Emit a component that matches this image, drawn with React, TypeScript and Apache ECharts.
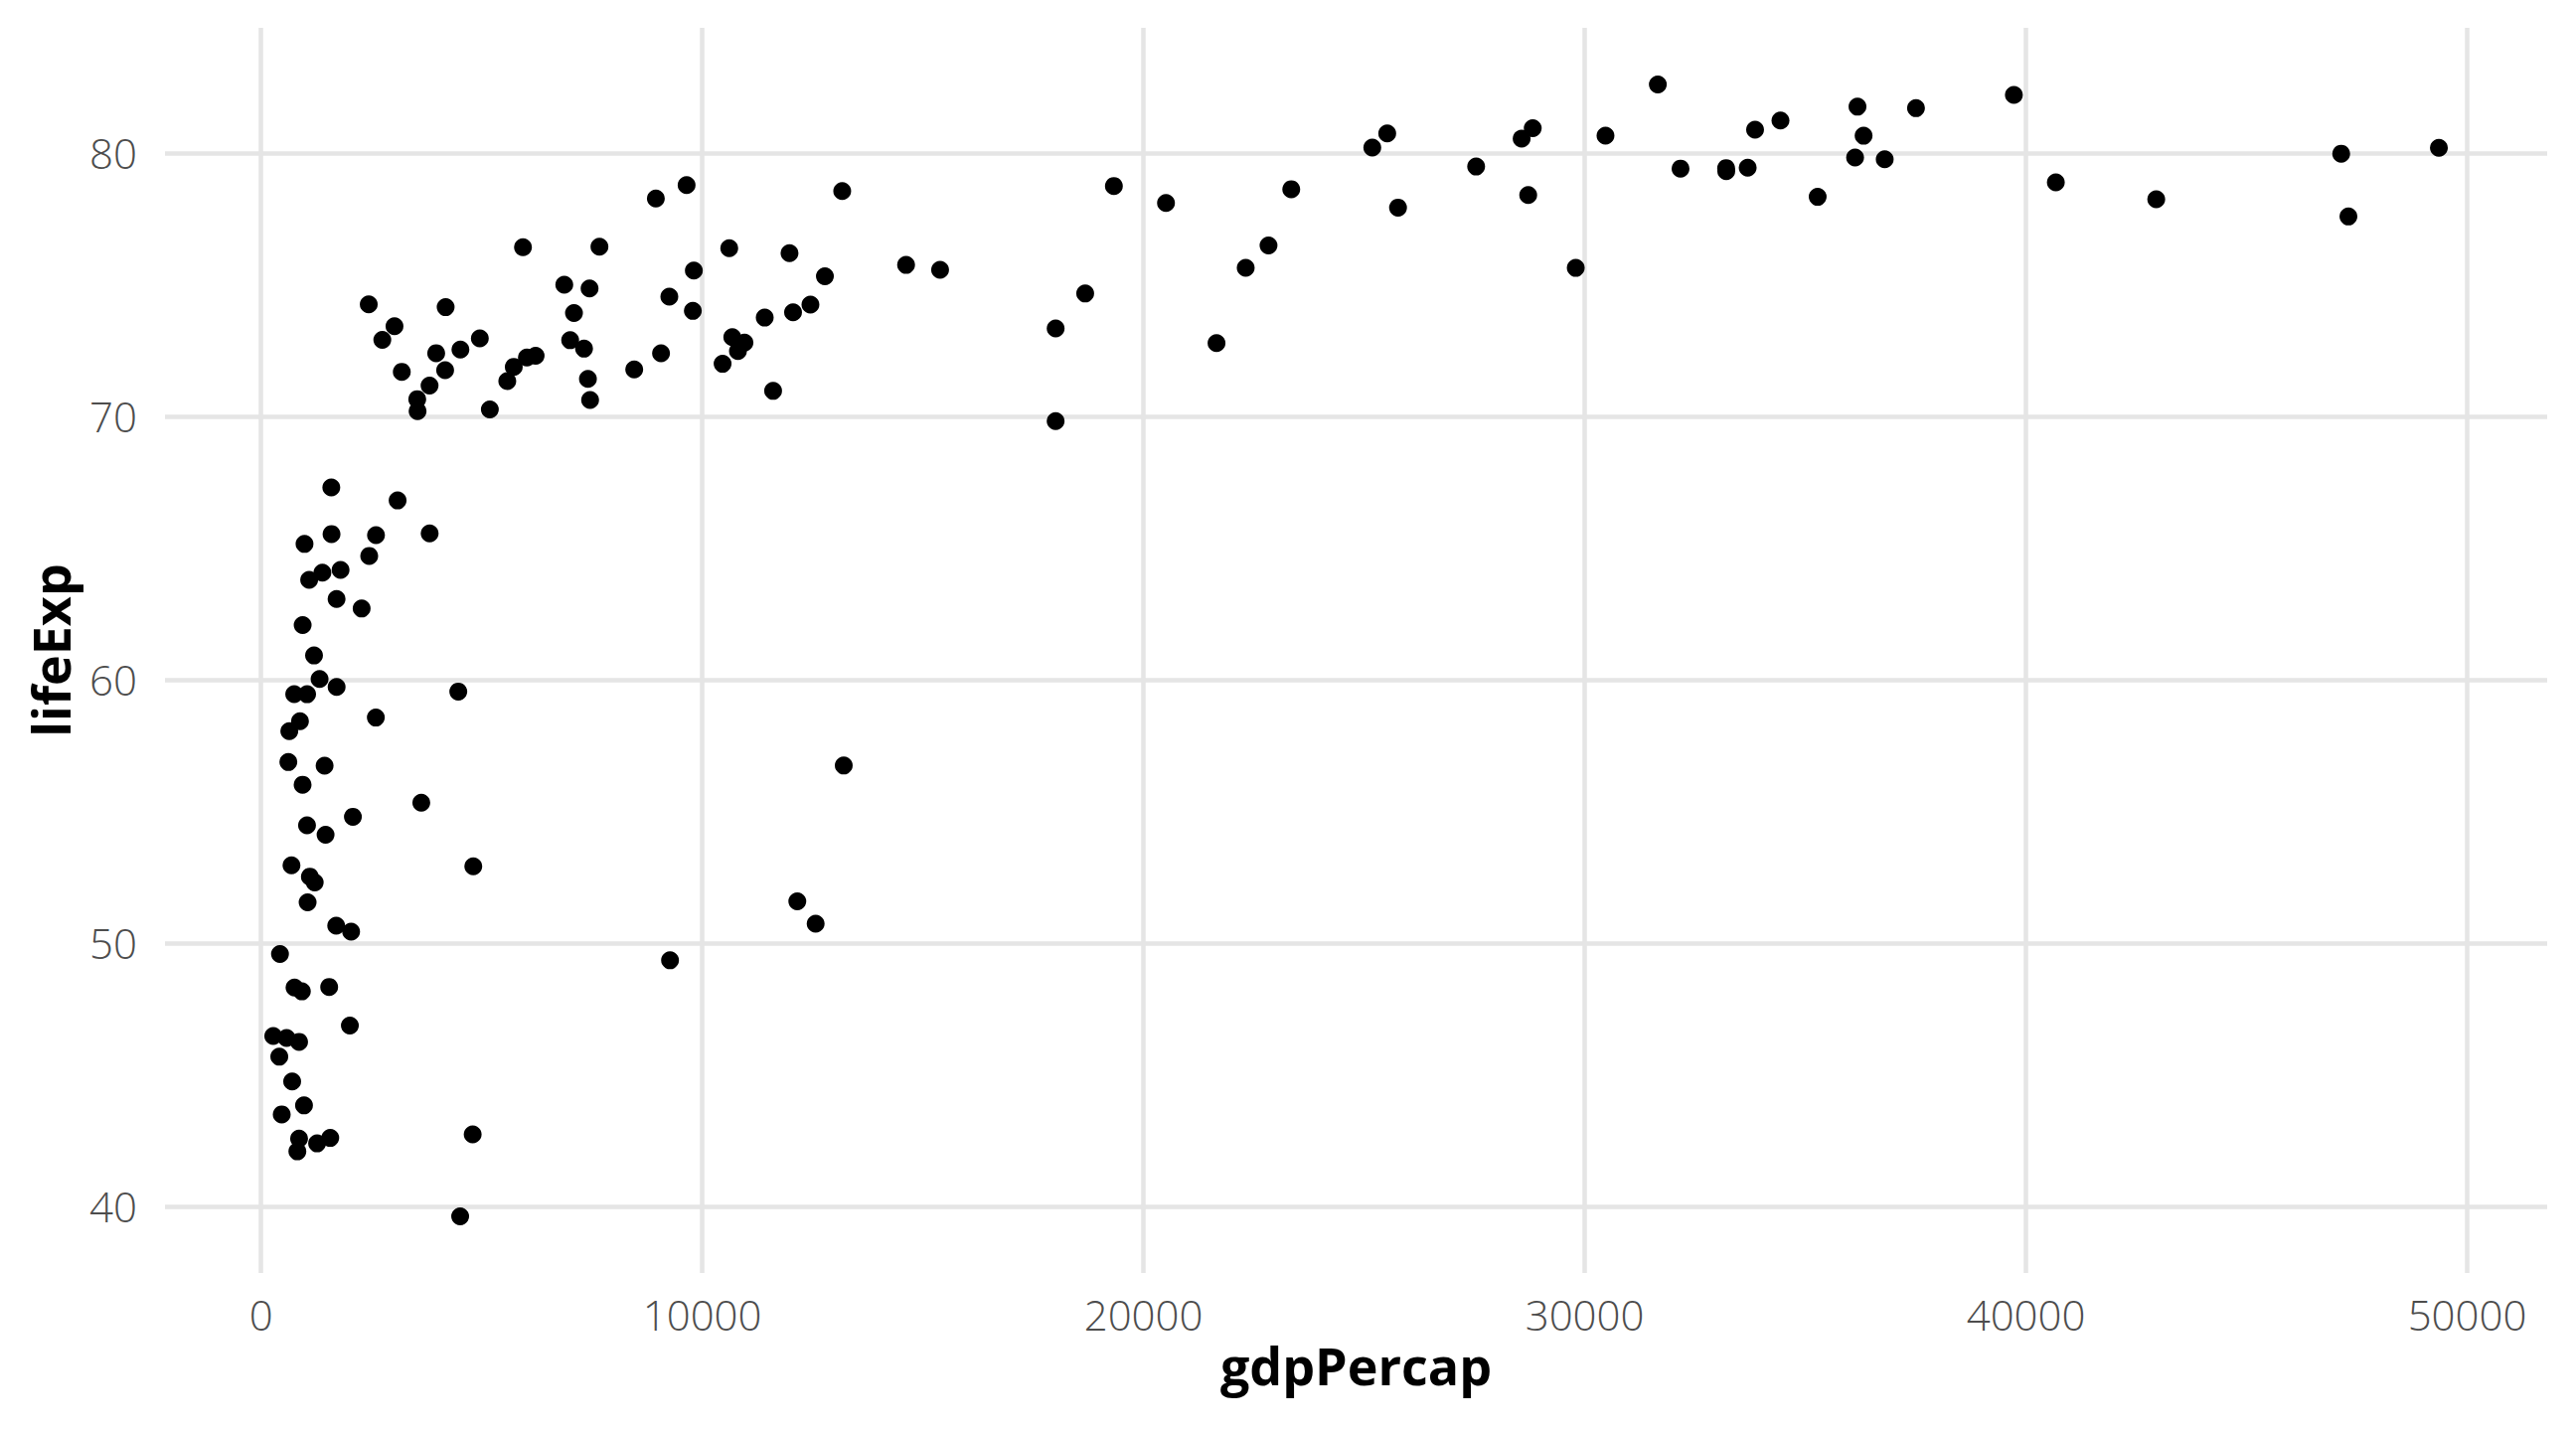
import React, { useEffect, useRef } from "react";
import * as echarts from "echarts";

// Gapminder 2007: one point per country
const countries = [
  "Afghanistan", "Albania", "Algeria", "Angola", "Argentina", "Australia", "Austria", "Bahrain",
  "Bangladesh", "Belgium", "Benin", "Bolivia", "Bosnia and Herzegovina", "Botswana", "Brazil",
  "Bulgaria", "Burkina Faso", "Burundi", "Cambodia", "Cameroon", "Canada", "Central African Republic",
  "Chad", "Chile", "China", "Colombia", "Comoros", "Congo, Dem. Rep.", "Congo, Rep.", "Costa Rica",
  "Cote d'Ivoire", "Croatia", "Cuba", "Czech Republic", "Denmark", "Djibouti", "Dominican Republic",
  "Ecuador", "Egypt", "El Salvador", "Equatorial Guinea", "Eritrea", "Ethiopia", "Finland", "France",
  "Gabon", "Gambia", "Germany", "Ghana", "Greece", "Guatemala", "Guinea", "Guinea-Bissau", "Haiti",
  "Honduras", "Hong Kong, China", "Hungary", "Iceland", "India", "Indonesia", "Iran", "Iraq", "Ireland",
  "Israel", "Italy", "Jamaica", "Japan", "Jordan", "Kenya", "Korea, Dem. Rep.", "Korea, Rep.", "Kuwait",
  "Lebanon", "Lesotho", "Liberia", "Libya", "Madagascar", "Malawi", "Malaysia", "Mali", "Mauritania",
  "Mauritius", "Mexico", "Mongolia", "Montenegro", "Morocco", "Mozambique", "Myanmar", "Namibia", "Nepal",
  "Netherlands", "New Zealand", "Nicaragua", "Niger", "Nigeria", "Norway", "Oman", "Pakistan", "Panama",
  "Paraguay", "Peru", "Philippines", "Poland", "Portugal", "Puerto Rico", "Reunion", "Romania", "Rwanda",
  "Sao Tome and Principe", "Saudi Arabia", "Senegal", "Serbia", "Sierra Leone", "Singapore",
  "Slovak Republic", "Slovenia", "Somalia", "South Africa", "Spain", "Sri Lanka", "Sudan", "Swaziland",
  "Sweden", "Switzerland", "Syria", "Taiwan", "Tanzania", "Thailand", "Togo", "Trinidad and Tobago",
  "Tunisia", "Turkey", "Uganda", "United Kingdom", "United States", "Uruguay", "Venezuela", "Vietnam",
  "West Bank and Gaza", "Yemen, Rep.", "Zambia", "Zimbabwe",
];

const gdpPercap = [
  974.58, 5937.03, 6223.37, 4797.23, 12779.38, 34435.37, 36126.49, 29796.05,
  1391.25, 33692.61, 1441.28, 3822.14, 7446.30, 12569.85, 9065.80,
  10680.79, 1217.03, 430.07, 1713.78, 2042.10, 36319.24, 706.02,
  1704.06, 13171.64, 4959.11, 7006.58, 986.15, 277.55, 3632.56, 9645.06,
  1544.75, 14619.22, 8948.10, 22833.31, 35278.42, 2082.48, 6025.37,
  6873.26, 5581.18, 5728.35, 12154.09, 641.37, 690.81, 33207.08, 30470.02,
  13206.48, 752.75, 32170.37, 1327.61, 27538.41, 5186.05, 942.65, 579.23, 1201.64,
  3548.33, 39724.98, 18008.94, 36180.79, 2452.21, 3540.65, 11605.71, 4471.06, 40676.00,
  25523.28, 28569.72, 7320.88, 31656.07, 4519.46, 1463.25, 1593.07, 23348.14, 47306.99,
  10461.06, 1569.33, 414.51, 12057.50, 1044.77, 759.35, 12451.66, 1042.58, 1803.15,
  10956.99, 11977.57, 3095.77, 9253.90, 3820.18, 823.69, 944.00, 4811.06, 1091.36,
  36797.93, 25185.01, 2749.32, 619.68, 2013.98, 49357.19, 22316.19, 2605.95, 9809.19,
  4172.84, 7408.91, 3190.48, 15389.92, 20509.65, 19328.71, 7670.12, 10808.48, 863.09,
  1598.44, 21654.83, 1712.47, 9786.53, 862.54, 47143.18,
  18678.31, 25768.26, 926.14, 9269.66, 28821.06, 3970.10, 2602.39, 4513.48,
  33859.75, 37506.42, 4184.55, 28718.28, 1107.48, 7458.40, 882.97, 18008.51,
  7092.92, 8458.28, 1056.38, 33203.26, 42951.65, 10611.46, 11415.81, 2441.58,
  3025.35, 2280.77, 1271.21, 469.71,
];

const lifeExp = [
  43.828, 76.423, 72.301, 42.731, 75.32, 81.235, 79.829, 75.635,
  64.062, 79.441, 56.728, 65.554, 74.852, 50.728, 72.39,
  73.005, 52.295, 49.58, 59.723, 50.43, 80.653, 44.741,
  50.651, 78.553, 72.961, 72.889, 65.152, 46.462, 55.322, 78.782,
  48.328, 75.748, 78.273, 76.486, 78.332, 54.791, 72.235,
  74.994, 71.338, 71.878, 51.579, 58.04, 52.947, 79.313, 80.657,
  56.735, 59.448, 79.406, 60.022, 79.483, 70.259, 56.007, 46.388, 60.916,
  70.198, 82.208, 73.338, 81.757, 64.698, 70.65, 70.964, 59.545, 78.885,
  80.745, 80.546, 72.567, 82.603, 72.535, 54.11, 67.297, 78.623, 77.588,
  71.993, 42.592, 45.678, 73.952, 59.443, 48.303, 74.241, 54.467, 64.164,
  72.801, 76.195, 66.803, 74.543, 71.164, 42.082, 62.069, 52.906, 63.785,
  79.762, 80.204, 72.899, 56.867, 46.859, 80.196, 75.64, 65.483, 75.537,
  71.752, 71.421, 71.688, 75.563, 78.098, 78.746, 76.442, 72.476, 46.242,
  65.528, 72.777, 63.062, 74.002, 42.568, 79.972,
  74.663, 77.926, 48.159, 49.339, 80.941, 72.396, 58.556, 39.613,
  80.884, 81.701, 74.143, 78.4, 52.517, 70.616, 58.42, 69.819,
  73.923, 71.777, 51.542, 79.425, 78.242, 76.384, 73.747, 74.249,
  73.422, 62.698, 42.384, 43.487,
];

const xTicks = [0, 10000, 20000, 30000, 40000, 50000];
const yTicks = [40, 50, 60, 70, 80];
const xTitle = "gdpPercap";
const yTitle = "lifeExp";

export default function App() {
  const ref = useRef<HTMLDivElement>(null);

  useEffect(() => {
    document.body.style.margin = "0";
    if (!ref.current) return;
    const chart = echarts.init(ref.current, undefined, { renderer: "svg" });

    // ggplot-style 5% expansion of the data range
    const xMinD = Math.min(...gdpPercap);
    const xMaxD = Math.max(...gdpPercap);
    const yMinD = Math.min(...lifeExp);
    const yMaxD = Math.max(...lifeExp);
    const xPad = (xMaxD - xMinD) * 0.05;
    const yPad = (yMaxD - yMinD) * 0.05;

    const points = gdpPercap.map((g, i) => ({ name: countries[i], value: [g, lifeExp[i]] }));

    const labelFont = "'Open Sans', 'Noto Sans', sans-serif";

    chart.setOption({
      animation: false,
      backgroundColor: "#ffffff",
      grid: { left: 166, top: 28, width: 2397, height: 1253, containLabel: false },
      xAxis: {
        type: "value",
        min: xMinD - xPad,
        max: xMaxD + xPad,
        name: xTitle,
        nameLocation: "middle",
        nameGap: 66,
        nameTextStyle: { fontFamily: labelFont, fontWeight: "bold", fontSize: 52, color: "#000000" },
        axisLine: { show: false },
        axisTick: { show: false },
        splitLine: { show: false },
        axisLabel: {
          customValues: xTicks,
          formatter: (v: number) => String(v),
          margin: 20,
          fontFamily: labelFont,
          fontWeight: 300,
          fontSize: 42,
          color: "#4D4D4D",
        },
      },
      yAxis: {
        type: "value",
        min: yMinD - yPad,
        max: yMaxD + yPad,
        name: yTitle,
        nameLocation: "middle",
        nameGap: 90,
        nameRotate: 90,
        nameTextStyle: { fontFamily: labelFont, fontWeight: "bold", fontSize: 52, color: "#000000" },
        axisLine: { show: false },
        axisTick: { show: false },
        splitLine: { show: false },
        axisLabel: {
          customValues: yTicks,
          formatter: (v: number) => String(v),
          margin: 28,
          fontFamily: labelFont,
          fontWeight: 300,
          fontSize: 42,
          color: "#4D4D4D",
        },
      },
      series: [
        {
          type: "scatter",
          data: points,
          symbol: "circle",
          symbolSize: 18,
          itemStyle: { color: "#000000", opacity: 1 },
          z: 3,
          markLine: {
            silent: true,
            z: 1,
            symbol: "none",
            label: { show: false },
            lineStyle: { color: "#E5E5E5", width: 4.5, type: "solid" },
            emphasis: { disabled: true },
            data: [
              ...xTicks.map((v) => ({ xAxis: v })),
              ...yTicks.map((v) => ({ yAxis: v })),
            ],
          },
        },
      ],
    });

    return () => chart.dispose();
  }, []);

  return <div ref={ref} style={{ width: 2592, height: 1440 }} />;
}
